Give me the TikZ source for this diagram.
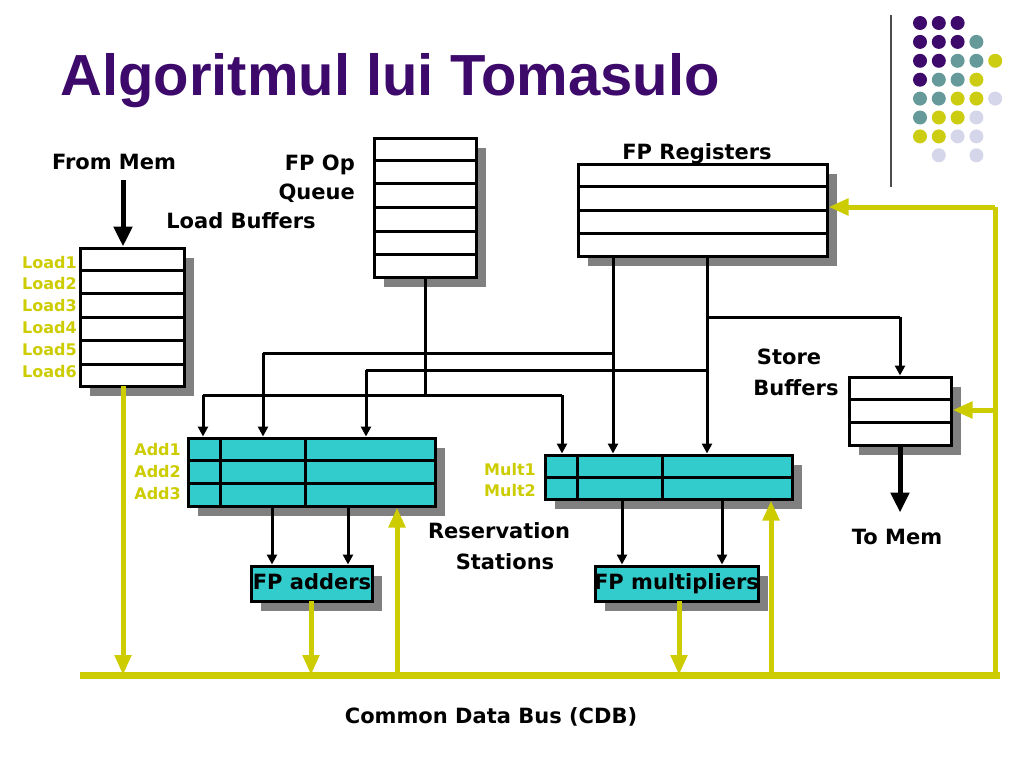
\documentclass[tikz,border=0pt]{standalone}
\usepackage{fontspec}
\setmainfont{DejaVu Sans}
\newfontfamily\titlefont{Liberation Sans}
\usetikzlibrary{arrows.meta,calc,shadows}
\definecolor{ttl}{HTML}{3D0A6B}
\definecolor{ylw}{HTML}{CCCC00}
\definecolor{cyn}{HTML}{33CCCC}
\definecolor{shd}{HTML}{808080}
\definecolor{dpur}{HTML}{3D0A6B}
\definecolor{dteal}{HTML}{669999}
\definecolor{dylw}{HTML}{CCCC11}
\definecolor{dlav}{HTML}{D6D6EA}
\tikzset{
  bx/.style={draw=black, line width=3pt, fill=white, inner sep=0pt,
    general shadow={fill=shd, draw=none, shadow xshift=10pt, shadow yshift=-10pt}},
  rs/.style={bx, fill=cyn},
  rowline/.style={draw=black, line width=3pt},
  lbl/.style={font=\bfseries\fontsize{21}{25}\selectfont, inner sep=0pt, anchor=base},
  ylbl/.style={font=\bfseries\fontsize{16}{18}\selectfont, text=ylw, inner sep=0pt, anchor=base east},
  conn/.style={draw=black, line width=3pt},
  carr/.style={conn, -{Triangle[length=10pt,width=10pt]}},
  bigarr/.style={draw=black, line width=5pt, -{Triangle[length=20pt,width=18pt]}},
  yline/.style={draw=ylw, line width=5pt},
  yarr/.style={yline, -{Triangle[length=20pt,width=16pt]}},
  dot/.style={circle, inner sep=0pt, minimum size=14pt, fill=#1}
}
\begin{document}
\begin{tikzpicture}[x=1pt,y=-1pt]
\useasboundingbox (0,0) rectangle (1024,768);

% title
\node[anchor=base west, text=ttl, inner sep=0pt, font=\titlefont\bfseries\fontsize{58}{62}\selectfont] (title) at (60,95) {Algoritmul lui Tomasulo};

% decoration line and dots
\coordinate (vlA) at (891,15);
\coordinate (vlB) at (891,187);
\draw[draw=black!70, line width=1.2pt] (vlA) -- (vlB);
\foreach \c/\r/\col in {0/0/dpur,1/0/dpur,2/0/dpur,
  0/1/dpur,1/1/dpur,2/1/dpur,3/1/dteal,
  0/2/dpur,1/2/dpur,2/2/dteal,3/2/dteal,4/2/dylw,
  0/3/dpur,1/3/dteal,2/3/dteal,3/3/dylw,
  0/4/dteal,1/4/dteal,2/4/dylw,3/4/dylw,4/4/dlav,
  0/5/dteal,1/5/dylw,2/5/dylw,3/5/dlav,
  0/6/dylw,1/6/dylw,2/6/dlav,3/6/dlav,
  1/7/dlav,3/7/dlav}{
  \node[dot=\col] (d\c\r) at (920+18.8*\c,23+18.9*\r) {};
}

% boxes
\node[bx, minimum width=104pt, minimum height=138pt] (load) at (132,317) {};
\node[bx, minimum width=102pt, minimum height=139pt] (queue) at (425,207.5) {};
\node[bx, minimum width=249pt, minimum height=92pt] (regs) at (702.5,210) {};
\node[bx, minimum width=102pt, minimum height=68pt] (store) at (900,411) {};
\node[rs, minimum width=247pt, minimum height=68pt] (add) at (311.5,472) {};
\node[rs, minimum width=247pt, minimum height=44pt] (mult) at (668.5,477) {};
\node[rs, minimum width=121pt, minimum height=35pt] (adders) at (311.5,583.5) {};
\node[rs, minimum width=163pt, minimum height=35pt] (mults) at (676.5,583.5) {};

\foreach \n/\k in {load/6,queue/6,regs/4,store/3,add/3,mult/2}{
  \pgfmathtruncatemacro\km{\k-1}
  \foreach \i in {1,...,\km}{
    \draw[rowline] ($(\n.north west)!\i/\k!(\n.south west)$) -- ($(\n.north east)!\i/\k!(\n.south east)$);
  }
}
\foreach \n in {add,mult}{
  \draw[rowline] ($(\n.north west)+(34,0)$) -- ($(\n.south west)+(34,0)$);
  \draw[rowline] ($(\n.north west)+(119,0)$) -- ($(\n.south west)+(119,0)$);
}

% texts
\node[lbl] (fmem) at (114,169) {From Mem};
\node[lbl, anchor=base east] (fpop) at (355,170) {FP Op};
\node[lbl, anchor=base east] (fpq) at (355,199) {Queue};
\node[lbl] (lbuf) at (241,228) {Load Buffers};
\node[lbl] (fpreg) at (697,159) {FP Registers};
\node[lbl] (st1) at (789,364) {Store};
\node[lbl] (st2) at (796,395) {Buffers};
\node[lbl] (tomem) at (897,544) {To Mem};
\node[lbl] (res1) at (499,538) {Reservation};
\node[lbl] (res2) at (505,569) {Stations};
\node[lbl] (cdb) at (491,723) {Common Data Bus (CDB)};
\node[lbl] (addtxt) at (312,589) {FP adders};
\node[lbl] (multtxt) at (676.5,589) {FP multipliers};

\foreach \i in {1,...,6}{
  \node[ylbl] (l\i) at (77,{268+21.8*(\i-1)}) {Load\i};
}
\foreach \i in {1,2,3}{
  \node[ylbl] (a\i) at (181,{455+22*(\i-1)}) {Add\i};
}
\foreach \i in {1,2}{
  \node[ylbl] (m\i) at (536,{475+21*(\i-1)}) {Mult\i};
}

% black connectors
\coordinate (fmA) at (123,180);
\draw[bigarr] (fmA) -- (fmA |- load.north);

\coordinate (qj) at (425,395);
\coordinate (x203) at (203,395);
\coordinate (x562) at (562,395);
\draw[conn] (queue.south) -- (qj);
\draw[conn] (x203) -- (x562);
\draw[carr] (x203) -- (x203 |- add.north);
\draw[carr] (x562) -- (x562 |- mult.north);

\coordinate (r1) at (613,256);
\coordinate (r2) at (707,256);
\draw[carr] (r1) -- (r1 |- mult.north);
\draw[carr] (r2) -- (r2 |- mult.north);

\coordinate (h1a) at (263,353);
\coordinate (h1b) at (613,353);
\draw[conn] (h1b) -- (h1a);
\draw[carr] (h1a) -- (h1a |- add.north);
\coordinate (h2a) at (366,370);
\coordinate (h2b) at (707,370);
\draw[conn] (h2b) -- (h2a);
\draw[carr] (h2a) -- (h2a |- add.north);

\coordinate (sa) at (707,317);
\coordinate (sb) at (900,317);
\draw[conn] (sa) -- (sb);
\draw[carr] (sb) -- (store.north);

\coordinate (ao1) at (272,506);
\coordinate (ao2) at (348,506);
\draw[carr] (ao1) -- (ao1 |- adders.north);
\draw[carr] (ao2) -- (ao2 |- adders.north);
\coordinate (mo1) at (622,499);
\coordinate (mo2) at (722,499);
\draw[carr] (mo1) -- (mo1 |- mults.north);
\draw[carr] (mo2) -- (mo2 |- mults.north);

\draw[bigarr] (store.south) -- ++(0,66);

% yellow bus
\coordinate (busL) at (80,675);
\coordinate (busR) at (1000,675);
\draw[draw=ylw, line width=7pt] (busL) -- (busR);
\coordinate (rb) at (995,675);
\coordinate (rt) at (995,207);
\draw[yline] (rb) -- (rt);
\draw[yarr] (rt) -- (rt -| regs.east);
\coordinate (rs) at (995,410);
\draw[yarr] (rs) -- (rs -| store.east);

\coordinate (ld) at (123,386);
\draw[yarr] (ld) -- (ld |- busL);
\coordinate (ad) at (311,601);
\draw[yarr] (ad) -- (ad |- busL);
\coordinate (md) at (679,601);
\draw[yarr] (md) -- (md |- busL);
\coordinate (au) at (397,675);
\draw[yarr] (au) -- (au |- add.south);
\coordinate (mu) at (771,675);
\draw[yarr] (mu) -- (mu |- mult.south);
\end{tikzpicture}
\end{document}
